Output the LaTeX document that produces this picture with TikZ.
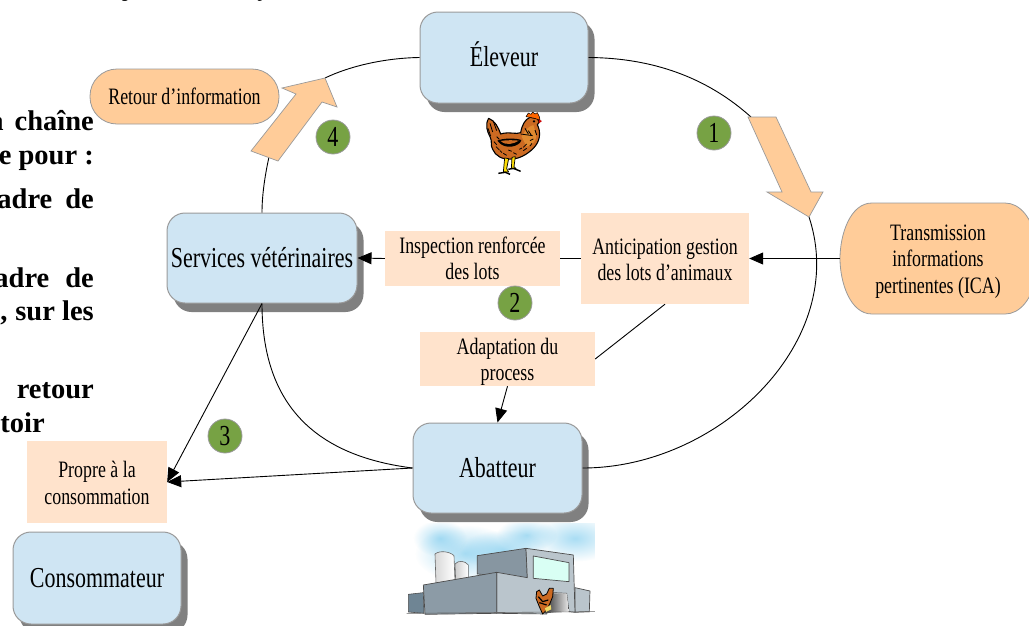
\documentclass[tikz,border=0pt]{standalone}
\usepackage{fontspec}
\setmainfont{Liberation Serif}[FakeStretch=0.76]
\newfontfamily\boldtxt{Liberation Serif Bold}
\usetikzlibrary{arrows.meta,shadows,calc,fadings}
\tikzfading[name=softblob,inner color=transparent!35,outer color=transparent!100]
\definecolor{boxblue}{HTML}{CFE5F3}
\definecolor{boxpeach}{HTML}{FFE3CC}
\definecolor{pill}{HTML}{FFCC99}
\definecolor{numgreen}{HTML}{77A244}
\definecolor{edgegray}{HTML}{9A9A9A}
\definecolor{henbody}{HTML}{CC6A22}
\definecolor{henlight}{HTML}{E08A30}
\definecolor{skyblue}{HTML}{7CCBEE}
\tikzset{
  actor/.style={draw=edgegray,line width=1pt,fill=boxblue,rounded corners=18pt,inner sep=0pt,align=center,
    font=\fontsize{28.9}{32}\selectfont,
    copy shadow={shadow xshift=6.5pt,shadow yshift=-9pt,fill=black!50,draw=none,opacity=1}},
  note/.style={fill=boxpeach,inner sep=0pt,align=center,font=\fontsize{23.5}{26.5}\selectfont},
  num/.style={circle,draw=edgegray,line width=.8pt,fill=numgreen,minimum size=34pt,inner sep=0pt,font=\fontsize{29}{30}\selectfont},
  link/.style={line width=.9pt,black},
  arrowlink/.style={link,-{Triangle[length=14pt,width=12pt]}},
  blockarrow/.style={fill=pill,draw=edgegray,line width=.7pt,line join=miter},
  cut/.style={font=\boldtxt\fontsize{28.5}{32}\selectfont,inner sep=0pt,anchor=base east},
  chickline/.style={line width=.8pt,black},
  blob/.style={fill=skyblue,path fading=softblob},
}
\begin{document}
\begin{tikzpicture}[x=1pt,y=-1pt]
\useasboundingbox (0,0) rectangle (1029,625);
\fill[white] (0,0) rectangle (1029,625);

% clipped body text of the page behind the figure
\begin{scope}
\clip (0,0) rectangle (1029,625);
\node[inner sep=0pt,anchor=base,font=\fontsize{23}{26}\selectfont] (cutg) at (125,-3.6) {g};
\node[inner sep=0pt,anchor=base,font=\fontsize{23}{26}\selectfont] (cutp) at (262,-3.6) {p};
\node[cut] (c1) at (94,130) {a\hspace{11pt}chaîne};
\node[cut] (c2) at (94,164) {e pour :};
\node[cut] (c3) at (94,208) {adre\hspace{13pt}de};
\node[cut] (c4) at (94,287) {adre\hspace{16pt}de};
\node[cut] (c5) at (94,320) {,\hspace{8pt}sur les};
\node[cut] (c6) at (94,398) {retour};
\node[cut] (c7) at (45,432) {toir};
\end{scope}

% actors
\node[actor,minimum width=168pt,minimum height=91pt] (elev) at (504,57.5) {Éleveur\rule[-6.7pt]{0pt}{1pt}};
\node[actor,minimum width=190pt,minimum height=90pt] (serv) at (262,258) {Services vétérinaires};
\node[actor,minimum width=169pt,minimum height=90pt] (abat) at (497.5,468) {Abatteur};
\node[actor,minimum width=168pt,minimum height=92pt] (cons) at (97,578) {Consommateur};

% notes
\node[note,minimum width=175pt,minimum height=55pt] (insp) at (472.5,258.5) {Inspection renforcée\\des lots};
\node[note,minimum width=168pt,minimum height=91pt] (anti) at (665,258.5) {\rule{0pt}{18pt}Anticipation gestion\\des lots d’animaux};
\node[note,minimum width=175pt,minimum height=54pt] (adap) at (507.5,359) {\rule{0pt}{22pt}Adaptation du\\process};
\node[note,minimum width=140pt,minimum height=82pt] (prop) at (97,482) {\rule{0pt}{18pt}Propre à la\\consommation};

% pills
\node[draw=edgegray,line width=.8pt,fill=pill,rounded corners=27pt,minimum width=189pt,minimum height=55pt,inner sep=0pt,
  font=\fontsize{23.5}{26}\selectfont] (reto) at (184.5,96.5) {Retour d’information};
\path[draw=edgegray,line width=.8pt,fill=pill] (840,258.5) .. controls (840,235) and (850,203) .. (872,203)
  -- (1005,203) .. controls (1020,203) and (1032,218) .. (1036,240) -- (1036,277)
  .. controls (1032,299) and (1020,314) .. (1005,314) -- (872,314) .. controls (850,314) and (840,282) .. (840,258.5) -- cycle;
\node[inner sep=0pt,align=center,minimum width=191pt,minimum height=111pt,font=\fontsize{23.5}{26.5}\selectfont] (tran) at (935.5,258.5) {\rule{0pt}{21pt}\hspace{5pt}Transmission\\\hspace{5pt}informations\\\hspace{5pt}pertinentes (ICA)};

% free ends on the big cycle
\coordinate (tipone) at (809,217);
\coordinate (tailone) at (751,117);
\coordinate (tipfour) at (325,78);
\coordinate (tailfour) at (269,157);

% cycle curves
\draw[link] (elev.east) .. controls (660,58) and (712,82) .. (tailone);
\draw[link] (tipone) .. controls (850,340) and (720,468) .. (abat.east);
\draw[link] (serv.south) .. controls (262,400) and (310,455) .. (abat.west);
\draw[link] (serv.north) .. controls (262,195) and (265,175) .. (tailfour);
\draw[link] (tipfour) .. controls (350,66) and (385,58) .. (elev.west);

% straight connectors
\draw[arrowlink] (tran.west) -- (anti.east);
\draw[link] (anti.west) -- (insp.east);
\draw[arrowlink] (insp.west) -- (serv.east);
\draw[link] (anti.south) -- (adap.east);
\draw[arrowlink] (adap.south) -- (abat.north);
\draw[arrowlink] (serv.south) -- (prop.east);
\draw[arrowlink] (abat.west) -- (prop.east);

% block arrows
\path[blockarrow] (748,117) -- (776,117) -- (811,192) -- (823,192) -- (tipone) -- (767,192) -- (782,192) -- cycle;
\path[blockarrow] (251,151) -- (278,161) -- (322,102) -- (337,107) -- (tipfour) -- (282,88) -- (296,94) -- cycle;

% numbers
\node[num] (n1) at (714,133) {1};
\node[num] (n2) at (515,303) {2};
\node[num] (n3) at (225,436) {3};
\node[num] (n4) at (333,137) {4};

% hen
\begin{scope}[shift={(480,110)},x=.3333pt,y=-.3333pt,line join=round]
  \path[fill=henbody,draw=black,line width=1.1pt] (26,25) .. controls (45,32) and (55,52) .. (62,72)
     .. controls (85,64) and (110,74) .. (122,68) .. controls (126,45) and (135,28) .. (150,22)
     -- (172,26) -- (178,36) -- (172,44) .. controls (184,68) and (180,95) .. (160,115)
     .. controls (140,135) and (115,147) .. (95,147) .. controls (68,150) and (46,138) .. (38,118)
     .. controls (30,105) and (38,95) .. (30,80) .. controls (22,65) and (14,45) .. (26,25) -- cycle;
  \path[fill=henlight] (125,80) .. controls (135,60) and (145,50) .. (160,45) -- (168,70) .. controls (172,90) and (160,105) .. (140,110) -- cycle;
  \path[fill=black] (52,92) .. controls (68,84) and (108,84) .. (124,90) .. controls (122,108) and (74,124) .. (52,92) -- cycle;
  \path[fill=henbody] (62,93) .. controls (78,90) and (102,90) .. (116,92) .. controls (100,102) and (78,108) .. (62,93) -- cycle;
  \path[fill=orange!80!red,draw=black,line width=.5pt] (138,20) -- (145,9) -- (153,13) -- (158,6) -- (165,12) -- (172,8) -- (178,20) -- (180,30) -- (160,24) -- cycle;
  \path[fill=red!80!black] (176,28) -- (186,33) -- (177,40) -- cycle;
  \fill[black] (162,34) circle (4);
  \draw[chickline] (30,40) -- (38,66) (40,34) -- (50,62) (24,55) -- (32,78) (48,110) -- (58,120) (130,112) -- (140,102)
    (145,62) -- (155,77) (135,55) -- (145,72) (70,130) -- (80,136) (100,128) -- (110,133) (150,92) -- (160,87)
    (122,72) -- (158,77) (50,80) -- (58,88) (42,95) -- (50,104) (130,122) -- (140,115) (85,120) -- (95,124) (118,118) -- (126,114)
    (60,122) -- (66,128) (150,108) -- (156,100) (165,60) -- (170,75);
  \path[fill=yellow!80!orange,draw=black,line width=.7pt] (74,144) -- (86,146) -- (80,176) -- (86,186) -- (70,186) -- cycle;
  \path[fill=yellow!80!orange,draw=black,line width=.7pt] (96,142) -- (106,140) -- (102,170) -- (108,176) -- (94,176) -- cycle;
  \draw[black,line width=1.4pt] (55,190) -- (76,187) -- (90,193) (85,178) -- (100,175) -- (122,184);
\end{scope}

% abattoir
\begin{scope}[shift={(390,410)},x=.3333pt,y=-.3333pt,line join=round]
  \begin{scope}
    \clip (45,340) rectangle (615,610);
    \path[blob] (225,430) ellipse (150 and 85);
    \path[blob] (555,385) ellipse (130 and 70);
    \path[blob] (410,375) ellipse (90 and 50);
    \path[blob] (150,385) ellipse (80 and 55);
    \path[blob] (340,420) ellipse (130 and 60);
  \end{scope}
  \path[left color=black!15,right color=white,draw=black!60,line width=.6pt] (135,432) .. controls (150,420) and (180,425) .. (192,437) -- (195,515) -- (138,520) -- cycle;
  \path[left color=black!20,right color=white,draw=black!60,line width=.6pt] (195,462) .. controls (205,450) and (225,452) .. (235,465) -- (235,505) -- (197,510) -- cycle;
  \definecolor{bldfront}{HTML}{8C9BA6}\definecolor{bldback}{HTML}{8796A1}\definecolor{bldright}{HTML}{BAC5CC}\definecolor{bldleft}{HTML}{6F8594}
  \path[fill=bldleft,draw=black!70,line width=.6pt] (55,553) -- (100,548) -- (102,610) -- (55,606) -- cycle;
  \path[fill=bldback,draw=black!70,line width=.7pt] (262,437) -- (408,415) -- (412,505) -- (262,492) -- cycle;
  \path[fill=bldright,draw=black!70,line width=.7pt] (555,533) -- (600,543) -- (598,605) -- (555,607) -- cycle;
  \path[fill=bldright,draw=black!70,line width=.7pt] (408,415) -- (550,435) -- (555,607) -- (537,605) -- (530,550) -- (490,548) -- (470,612) -- (320,610) -- (320,487) -- (412,503) -- cycle;
  \path[fill=bldfront,draw=black!70,line width=.7pt] (100,525) -- (320,487) -- (320,610) -- (105,613) -- cycle;
  \path[fill=green!30!cyan!15!white,draw=black!70,line width=.7pt] (430,438) -- (537,458) -- (537,515) -- (430,505) -- cycle;
  \path[left color=black!80,right color=black!8] (475,550) -- (530,550) -- (537,603) -- (465,610) -- cycle;
  \draw[black!60,line width=.6pt] (50,610) -- (615,605);
  \path[fill=henbody,draw=black,line width=.8pt] (440,545) -- (448,540) -- (458,558) -- (470,552) -- (478,535) -- (490,535) -- (488,560) -- (480,580) -- (470,600) -- (458,612) -- (448,590) -- (438,565) -- cycle;
  \path[fill=yellow!60!brown!70] (465,595) -- (482,585) -- (484,598) -- (468,606) -- cycle;
  \draw[black,line width=1.2pt] (445,560) -- (458,575) -- (475,570) (448,578) -- (470,585);
\end{scope}
\end{tikzpicture}
\end{document}
